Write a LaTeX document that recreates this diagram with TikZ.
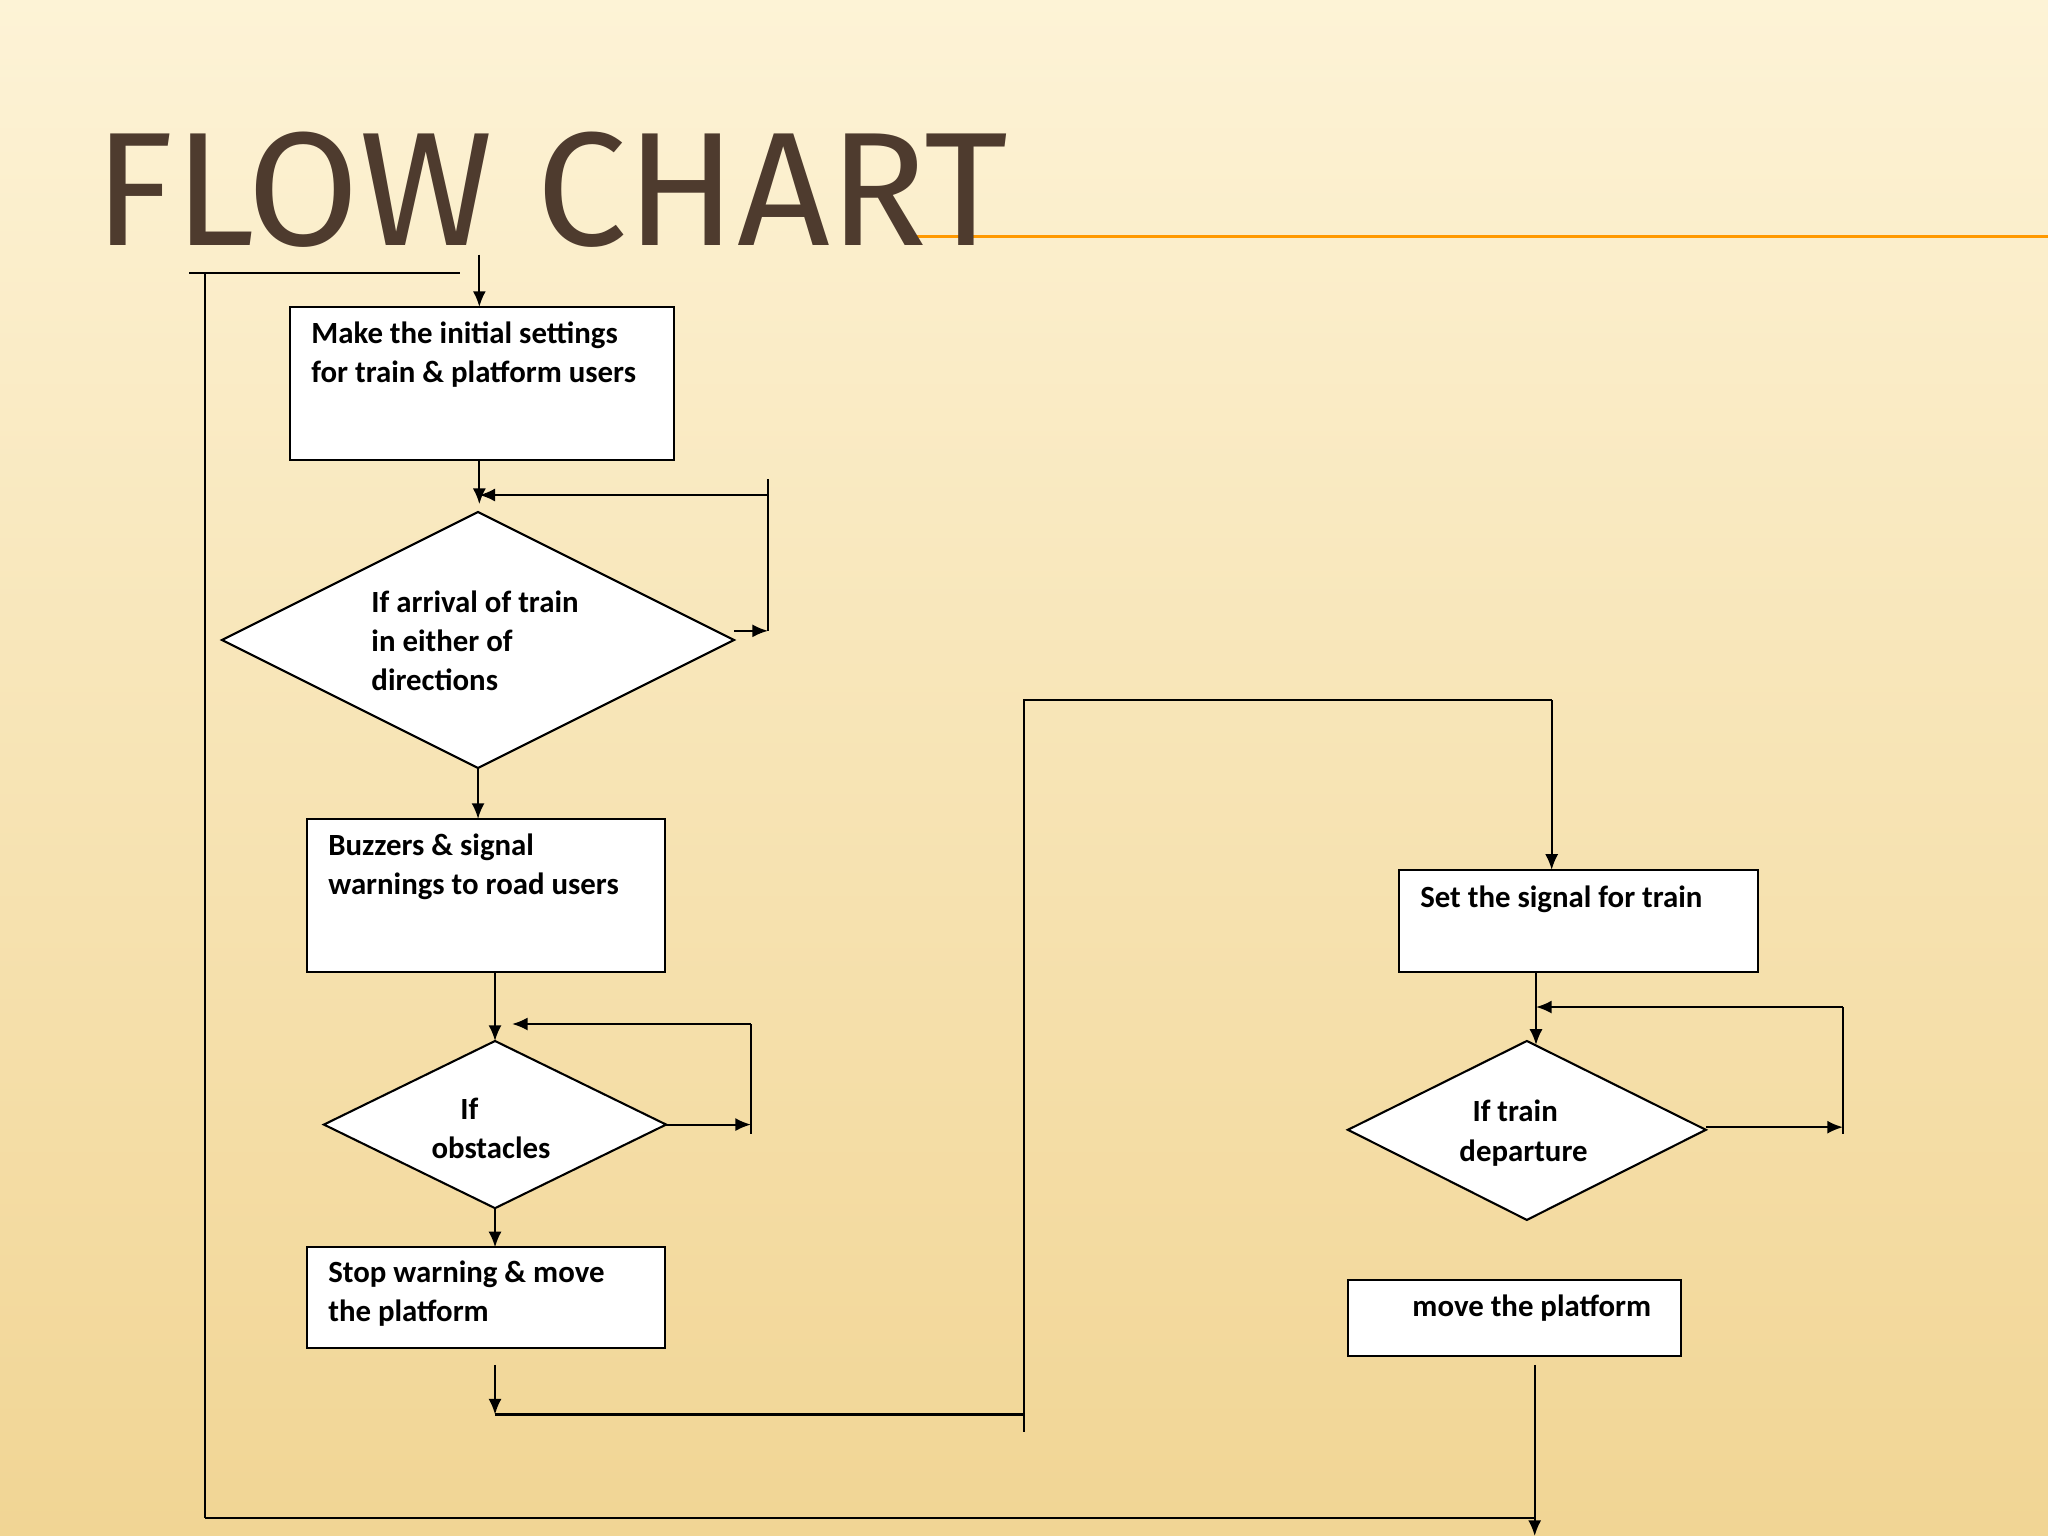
\documentclass[tikz,border=0pt]{standalone}
\usepackage{fontspec}
\setmainfont{Carlito}
\newfontfamily\titlefont{Fira Sans}
\usetikzlibrary{arrows.meta}
\definecolor{titlebrown}{HTML}{4E3B2E}
\definecolor{bgtop}{HTML}{FDF3D6}
\definecolor{bgbot}{HTML}{F1D594}
\begin{document}
\begin{tikzpicture}[x=0.5pt,y=-0.5pt,
  ln/.style={draw=black,line width=0.8pt},
  ar/.style={ln,-{Latex[length=6pt,width=5pt]}},
  bx/.style={draw=black,fill=white,line width=0.8pt},
  tx/.style={font=\bfseries\fontsize{11.8}{15}\selectfont,align=left,anchor=north west,inner sep=0pt}]
\useasboundingbox (0,0) rectangle (1568,1176);
\shade[top color=bgtop,bottom color=bgbot] (0,0) rectangle (1568,1176);
\draw[orange!80!yellow,line width=1pt] (700,181) -- (1568,181);
\node[anchor=south west,inner sep=0pt,text=titlebrown,font=\titlefont\fontsize{62}{62}\selectfont] (title) at (72,190) {FLOW CHART};
% boxes
\draw[bx] (222,235) rectangle (516,352); \coordinate (b1t) at (367,235); \coordinate (b1b) at (367,352);
\node[tx] (t1) at (238,246) {Make the initial settings\\for train \& platform users};
\draw[bx] (235,627) rectangle (509,744); \coordinate (b2t) at (366,627); \coordinate (b2b) at (379,744);
\node[tx] (t2) at (251,638) {Buzzers \& signal\\warnings to road users};
\draw[bx] (235,955) rectangle (509,1032); \coordinate (b3t) at (379,955);
\node[tx] (t3) at (251,965) {Stop warning \& move\\the platform};
\draw[bx] (1071,666) rectangle (1346,744); \coordinate (b4t) at (1188,666); \coordinate (b4b) at (1176,744);
\node[tx] (t4) at (1087,678) {Set the signal for train};
\draw[bx] (1032,980) rectangle (1287,1038);
\node[tx] (t5) at (1081,991) {move the platform};
% diamonds
\draw[bx] (170,490) -- (366,392) -- (562,490) -- (366,588) -- cycle;
\coordinate (d1t) at (366,392); \coordinate (d1r) at (562,483); \coordinate (d1b) at (366,588);
\node[tx] (t6) at (284,452) {If arrival of train\\in either of\\directions};
\draw[bx] (248,861) -- (379,797) -- (510,861) -- (379,925) -- cycle;
\coordinate (d2t) at (379,797); \coordinate (d2r) at (509,861); \coordinate (d2b) at (379,925);
\node[tx] (t7) at (330,840) {\hspace*{11pt}If\\obstacles};
\draw[bx] (1032,865) -- (1169,797) -- (1306,865) -- (1169,934) -- cycle;
\coordinate (d3t) at (1176,800); \coordinate (d3r) at (1306,863);
\node[tx] (t8) at (1117,842) {\hspace*{5pt}If train\\departure};
% connectors
\coordinate (c0) at (367,195);
\draw[ar] (c0) -- (b1t);
\draw[ar] (b1b) -- (367,386);
\coordinate (l1a) at (588,367); \coordinate (l1b) at (588,483); \coordinate (l1c) at (588,379);
\draw[ln] (l1a) -- (l1b);
\draw[ar] (l1c) -- (367,379);
\draw[ar] (d1r) -- (l1b);
\draw[ar] (d1b) -- (b2t);
\draw[ar] (b2b) -- (d2t);
\coordinate (l2a) at (575,784); \coordinate (l2b) at (575,868); \coordinate (l2c) at (575,861);
\draw[ln] (l2a) -- (l2b);
\draw[ar] (l2a) -- (392,784);
\draw[ar] (d2r) -- (l2c);
\draw[ar] (d2b) -- (b3t);
\coordinate (e1) at (379,1045); \coordinate (e2) at (379,1083);
\draw[ar] (e1) -- (e2);
\coordinate (e3) at (784,1083); \coordinate (e4) at (784,1096); \coordinate (e5) at (784,536); \coordinate (e6) at (1188,536);
\draw[ln] (e2) -- (e3); \draw[ln] (e4) -- (e5) -- (e6);
\draw[ar] (e6) -- (b4t);
\draw[ar] (b4b) -- (d3t);
\coordinate (l3a) at (1411,771); \coordinate (l3b) at (1411,868); \coordinate (l3c) at (1411,863);
\draw[ln] (l3a) -- (l3b);
\draw[ar] (l3a) -- (1176,771);
\draw[ar] (d3r) -- (l3c);
\coordinate (f1) at (1175,1045); \coordinate (f2) at (1175,1176);
\draw[ar] (f1) -- (f2);
\coordinate (g1) at (157,1162); \coordinate (g2) at (157,209); \coordinate (g3) at (145,209); \coordinate (g4) at (352,209);
\draw[ln] (g1) -- (1175,1162);
\draw[ln] (g1) -- (g2);
\draw[ln] (g3) -- (g4);
\end{tikzpicture}
\end{document}
